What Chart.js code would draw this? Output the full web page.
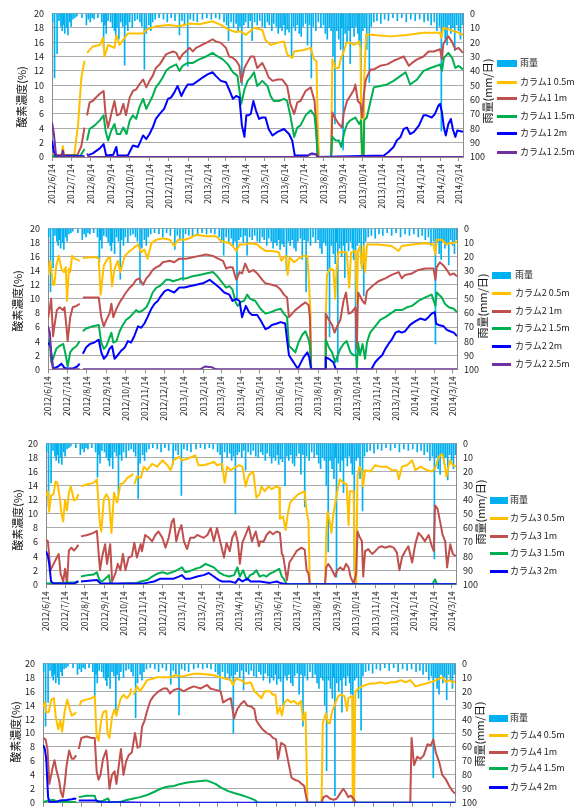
<!DOCTYPE html>
<html>
<head>
<meta charset="utf-8">
<script src="https://cdn.jsdelivr.net/npm/chart.js@4.4.1/dist/chart.umd.min.js"></script>
<style>
body { margin: 0; background: #fff; }
#page { position: relative; width: 576px; height: 809px; overflow: hidden; font-family: "Noto Sans CJK JP", sans-serif; }
.panel { position: absolute; left: 0; width: 576px; height: 215px; }
.panel canvas { position: absolute; left: 0; top: 0; }
.item { position: absolute; height: 14px; line-height: 14px; font-size: 9px; color: #222; white-space: nowrap; }
.sw { position: absolute; left: 0; }
</style>
</head>
<body>
<div id="page"></div>
<script>
// x tick labels (one per month)
var xLabels = ['2012/6/14', '2012/7/14', '2012/8/14', '2012/9/14', '2012/10/14', '2012/11/14',
    '2012/12/14', '2013/1/14', '2013/2/14', '2013/3/14', '2013/4/14', '2013/5/14', '2013/6/14',
    '2013/7/14', '2013/8/14', '2013/9/14', '2013/10/14', '2013/11/14', '2013/12/14', '2014/1/14',
    '2014/2/14', '2014/3/14'];

var depths = ['0.5m', '1m', '1.5m', '2m', '2.5m'];
var colors = ['#FFC000', '#C0504D', '#00B050', '#0000FF', '#7030A0'];

// rain: day offset from 2012/6/14 and mm/day
var rainDays = [1, 4, 8, 11, 14, 16, 18, 20, 23, 25, 28, 30, 33, 36, 39, 47, 54, 57, 60, 63, 66, 72, 78, 81, 83, 85, 88, 92, 95, 98,
    100, 102, 105, 108, 111, 114, 116, 119, 122, 126, 130, 134, 138, 141, 145, 148, 152, 155, 158, 162, 168, 175, 181, 187, 193,
    200, 204, 208, 213, 217, 222, 228, 236, 243, 250, 257, 263, 270, 274, 277, 281, 285, 289, 292, 295, 298, 301, 304, 308, 311,
    314, 318, 322, 326, 330, 334, 338, 341, 345, 348, 352, 355, 358, 361, 364, 366, 369, 372, 376, 379, 382, 385, 388, 391, 394,
    398, 401, 404, 407, 410, 414, 418, 422, 426, 429, 432, 435, 438, 441, 444, 447, 450, 453, 455, 457, 460, 463, 466, 468, 471,
    474, 477, 480, 482, 485, 488, 491, 494, 498, 501, 505, 510, 516, 522, 528, 535, 542, 549, 556, 563, 570, 577, 584, 590, 595,
    600, 604, 608, 611, 614, 617, 620, 623, 626, 629, 632, 635, 638, 641, 644];
var rainMm = [6, 45, 28, 5, 9, 12, 8, 14, 10, 15, 6, 9, 4, 3, 2, 3, 8, 4, 6, 3, 4, 3, 6, 24, 8, 14, 5, 6, 10, 12,
    16, 10, 18, 6, 9, 36, 8, 12, 6, 10, 5, 4, 6, 9, 39, 14, 8, 12, 6, 4, 3, 4, 6, 3, 5,
    15, 5, 8, 37, 4, 5, 6, 4, 3, 4, 3, 4, 6, 8, 19, 6, 10, 7, 12, 9, 50, 8, 6, 10, 5,
    19, 6, 8, 5, 9, 10, 6, 8, 12, 7, 9, 14, 10, 12, 8, 15, 11, 13, 30, 9, 12, 8, 14, 16, 9,
    7, 22, 8, 45, 9, 12, 6, 10, 8, 14, 18, 10, 12, 30, 77, 12, 18, 25, 10, 95, 14, 20, 12, 35, 10,
    16, 9, 14, 22, 90, 12, 10, 25, 48, 9, 6, 5, 7, 4, 5, 3, 5, 3, 6, 4, 5, 4, 6, 5, 8,
    6, 12, 9, 82, 10, 18, 22, 8, 14, 10, 26, 8, 12, 18, 8];

// oxygen (%) as [day, value]; null marks a break in the record
var c1_05 = [[0, 0.3], [10, 0.2], [15, 0.3], [17, 1.5], [19, 0.2], [35, 0.3], [41, 4.6], [46, 11], [51, 13.4], [52.5, null],
    [55, 14.5], [64, 15.4], [75, 15.6], [80, 16.6], [82.5, 14], [88, 15.6], [98, 15.2], [101, 17], [106, 15.6], [114, 16.6],
    [119, 17.2], [132, 17.2], [142, 17.2], [148, 17.7], [163, 18.2], [184, 18.4], [200, 18.2], [216, 18.6], [231, 18.5],
    [252, 18.9], [265, 18.4], [278, 17.7], [288, 17.4], [296, 17.5], [304, 17], [317, 18], [330, 17.7], [335, 16.3],
    [343, 15.6], [354, 15.9], [364, 16.1], [369, 14.3], [377, 13.8], [380, 14.7], [395, 14.9], [406, 15.2], [411, 13.6],
    [415, 13.4], [417, 4.6], [419, 0], [438, 0], [440, 13.6], [445, 12.4], [450, 12.4], [453, 13.6], [458, 14.7], [462, 15.9],
    [468, 15.9], [474, 15.6], [482, 16.1], [484, 15.2], [486, 0], [489, 0], [490, 11], [493, 17.1], [505, 17], [531, 16.8],
    [557, 17], [583, 17.3], [609, 17.3], [611, 16.6], [614, 18], [625, 17.7], [638, 17.3], [645, 17]];
var c1_10 = [[0, 0.2], [40, 0.3], [46, 1.5], [51, 4.1], [52.5, null], [55, 5.8], [59, 7.6], [64, 7.8], [69, 8.3], [75, 8.8],
    [81, 9.2], [84, 6], [88, 4.1], [93, 6], [98, 7.8], [102, 5.8], [107, 6], [112, 7.4], [116, 5.8], [122, 8.3], [127, 9.2],
    [132, 9.4], [137, 10.1], [143, 10.8], [148, 9.7], [153, 10.6], [158, 11.3], [163, 12.4], [169, 12.9], [174, 13.6],
    [179, 14.3], [184, 14.5], [190, 14.7], [195, 14.5], [200, 13.6], [205, 14.3], [210, 14.7], [216, 15.2], [221, 14.7],
    [226, 15.2], [231, 15.4], [237, 15.7], [242, 15.9], [252, 16.4], [257, 16.1], [265, 15.9], [273, 15.2], [278, 14],
    [284, 13.8], [289, 13.4], [294, 12.7], [297, 10.4], [302, 12.4], [306, 13.1], [312, 14], [317, 14], [322, 12.4],
    [330, 13.1], [335, 12.2], [340, 11.1], [346, 10.6], [354, 10.8], [361, 10.8], [369, 9.9], [374, 7.4], [380, 6],
    [385, 7.6], [390, 7.8], [398, 9.2], [406, 9.7], [412, 7.8], [415, 4.1], [417, 0], [438, 0], [440, 6.2], [445, 5.3],
    [450, 4.6], [455, 4.1], [458, 6.2], [463, 7.8], [468, 8.5], [474, 9.4], [476, 10.1], [480, 7.8], [484, 7.4], [487, 5.5],
    [489, 8.3], [492, 10.6], [494, 11.1], [500, 12.2], [505, 12.2], [515, 12.7], [526, 12.9], [536, 13.4], [547, 13.8],
    [552, 14], [560, 12.7], [565, 13.1], [573, 13.6], [583, 14], [591, 14.7], [599, 14.7], [609, 15], [612, 13.6],
    [614, 15.7], [620, 16.6], [622, 16.8], [628, 16], [633, 15], [638, 15.2], [645, 14.5]];
var c1_15 = [[0, 0.1], [45, 0.2], [51, 1.1], [52.5, null], [55, 2.3], [59, 3.9], [67, 4.4], [75, 5.1], [81, 5.8], [84, 3.7],
    [88, 2.3], [93, 3.7], [98, 4.6], [102, 3.2], [107, 3.2], [112, 4.1], [117, 3.2], [122, 5.1], [127, 5.8], [132, 5.3],
    [137, 6.9], [143, 8.1], [148, 6.7], [153, 7.6], [158, 8.5], [163, 9.7], [169, 10.4], [174, 11.1], [179, 12], [184, 12.4],
    [190, 12.7], [195, 12.9], [200, 12], [205, 12.7], [213, 13.1], [221, 13.1], [231, 13.6], [242, 14], [252, 14.5],
    [260, 14], [268, 13.6], [276, 12.9], [284, 11.8], [291, 11.3], [297, 7.4], [302, 9.4], [307, 10.6], [312, 11.1],
    [317, 11.8], [322, 9.9], [330, 10.6], [338, 9.9], [343, 8.5], [348, 7.8], [356, 7.8], [364, 8.1], [369, 7.8], [374, 5.8],
    [380, 2.8], [385, 4.1], [390, 4.4], [398, 5.8], [406, 6.5], [412, 5.8], [415, 2.8], [417, 0], [438, 0], [440, 2.8],
    [445, 2.3], [450, 2.3], [454, 1.4], [458, 3.2], [463, 4.6], [468, 5.1], [476, 5.5], [482, 4.6], [485, 5.1], [487, 0],
    [489, 0], [490, 5.1], [494, 5.5], [500, 7.8], [505, 9.7], [515, 9.9], [526, 10.1], [536, 10.6], [547, 11.3], [555, 11.8],
    [562, 10.1], [573, 10.8], [583, 12], [594, 12.4], [604, 12.7], [609, 12.9], [612, 12], [615, 13.8], [622, 14.5],
    [628, 13.8], [633, 12.4], [638, 12.7], [645, 12.2]];
var c1_20 = [[0, 2.3], [3, 0.7], [7, 0.1], [51, 0.1], [52.5, null], [55, 0.2], [64, 0.5], [75, 1.2], [81, 1.8], [85, 0.2],
    [96, 0.3], [101, 1.4], [103, 0.2], [119, 0.2], [127, 1.6], [135, 1.4], [143, 3], [148, 2.5], [153, 3.2], [158, 4.1],
    [163, 5.3], [169, 6], [176, 6.7], [182, 8.1], [187, 8.3], [192, 9], [197, 9.9], [203, 8.5], [208, 9.4], [213, 10.1],
    [221, 10.1], [229, 10.6], [237, 11.1], [244, 11.5], [252, 11.8], [257, 11.3], [265, 10.6], [273, 10.4], [278, 9.4],
    [284, 8.1], [289, 8.5], [294, 8.3], [298, 4.4], [302, 2.8], [305, 5.8], [308, 5.8], [312, 6], [316, 7.8], [320, 6.5],
    [325, 5.3], [330, 5.5], [335, 5.5], [340, 3.9], [346, 3], [354, 3.5], [364, 3.9], [372, 3.2], [377, 2.3], [381, 0.2],
    [401, 0.2], [408, 0.5], [414, 0.4], [417, 0], [521, 0.2], [528, 0.7], [536, 1.4], [541, 2.3], [547, 2.8], [552, 3.9],
    [557, 4.1], [562, 3.2], [568, 3.5], [576, 4.4], [583, 5.8], [588, 5.8], [596, 5.5], [601, 6], [606, 7.1], [609, 7.4],
    [612, 6.2], [615, 4.1], [618, 3], [622, 4.6], [626, 5.3], [629, 3.9], [633, 2.8], [636, 3.7], [645, 3.5]];
var c1_25 = [[0, 4.8], [3, 3.2], [6, 0.5], [9, 0], [15, 0], [17, 0.9], [19, 0], [51, 0], [52.5, null], [55, 0.5], [58, 0],
    [400, 0], [405, 0.4], [414, 0.4], [418, 0], [645, 0]];

var c2_05 = [[0, 13.4], [3, 15.4], [5, 14.3], [8, 12], [10, 12], [13, 14.7], [17, 16.1], [21, 14.3], [25, 13.8], [28, 14.5],
    [30, 9.7], [33, 14.3], [35, 13.8], [38, 16.1], [42, 15.7], [50, 15.4], [52.5, null], [55, 15.8], [66, 15.9], [76, 15.9],
    [80, 15.7], [83, 10.6], [88, 14.7], [94, 15.7], [98, 15.9], [101, 11.8], [105, 14.3], [110, 15.4], [114, 13.8],
    [121, 16.1], [129, 16.8], [136, 17.3], [142, 17.7], [147, 16.6], [152, 17], [157, 15.7], [163, 17.9], [171, 18.4],
    [181, 18.6], [192, 18.4], [199, 17.5], [205, 18.4], [215, 18.4], [223, 18.6], [234, 19.1], [249, 18.9], [265, 18.9],
    [273, 18.2], [286, 17.9], [291, 17.5], [297, 16.8], [302, 17.7], [309, 17.7], [319, 17.9], [330, 17.7], [335, 17.3],
    [343, 16.8], [353, 16.8], [364, 16.6], [368, 15.4], [372, 15.9], [375, 16.1], [378, 13.4], [381, 15.9], [388, 15.2],
    [395, 15.7], [403, 16.1], [409, 16.1], [411, 13.2], [414, 7.9], [415, 0], [437, 0], [438, 7.4], [440, 13.4], [445, 14.3],
    [450, 14.1], [453, 10], [455, 14.1], [458, 16.6], [466, 16.6], [471, 16.6], [475, 11.6], [478, 16.6], [485, 16.8],
    [487, 9.3], [489, 16.8], [492, 17.5], [495, 14.3], [498, 17.5], [500, 13.8], [503, 17.7], [521, 17.7], [542, 17.5],
    [553, 16.8], [558, 17.5], [574, 17.7], [595, 17.9], [608, 17.7], [611, 16.3], [613, 18.4], [621, 18.4], [629, 17.7],
    [632, 17.9], [640, 17.9], [645, 18.2]];
var c2_10 = [[0, 7.2], [3, 8.8], [5, 10], [8, 4.7], [10, 6.1], [14, 8.4], [18, 8.8], [24, 8.4], [26, 8.8], [29, 6.1], [31, 4],
    [35, 7.4], [39, 8.8], [45, 9], [50, 9.3], [52.5, null], [55, 10.2], [60, 10.2], [71, 10.2], [80, 10.2], [84, 7.4], [88, 6.1],
    [92, 7], [97, 7.9], [100, 9.3], [103, 7.4], [108, 8.6], [113, 9.5], [118, 10.2], [123, 10.9], [129, 11.6], [134, 12],
    [139, 12.7], [144, 12.9], [150, 12], [155, 12.9], [160, 13.4], [165, 14.1], [171, 14.5], [176, 14.7], [181, 15.2],
    [192, 15.4], [199, 15.2], [207, 15.7], [218, 15.7], [228, 15.9], [239, 16.1], [249, 16.3], [260, 16.1], [268, 15.7],
    [276, 15.4], [281, 14.3], [286, 14.5], [291, 14.5], [297, 12.7], [302, 13.8], [306, 13.6], [311, 15], [317, 13.8],
    [324, 14.1], [330, 13.6], [338, 12.7], [343, 12.2], [353, 12], [361, 11.8], [367, 11.3], [372, 10.6], [377, 10.2],
    [380, 7.4], [385, 7.9], [390, 8.4], [398, 9], [406, 9.5], [411, 9.1], [413, 7.4], [415, 0], [437, 0], [438, 7.9], [443, 7],
    [448, 6.3], [452, 5.2], [456, 6.1], [461, 7], [466, 9.7], [470, 10.9], [474, 7.9], [479, 8.1], [485, 8.8], [487, 2.9],
    [489, 10.9], [492, 10.4], [496, 9.7], [500, 9.3], [503, 11.1], [511, 11.8], [521, 12.5], [532, 12.9], [542, 13.4],
    [553, 13.8], [558, 12.9], [563, 13.4], [574, 13.6], [584, 14.1], [595, 14.3], [608, 14.3], [611, 12.7], [613, 14.5],
    [618, 15.2], [624, 14.7], [629, 14.1], [634, 13.4], [640, 13.6], [645, 13.2]];
var c2_15 = [[0, 3.8], [3, 4.2], [5, 1], [8, 1.5], [13, 2.9], [18, 3.3], [24, 3.6], [28, 2], [31, 0.4], [35, 2.4], [39, 2.9],
    [45, 3.3], [50, 4], [52.5, null], [55, 5.4], [60, 5.8], [71, 6.1], [80, 6.3], [84, 3.8], [88, 2.9], [92, 3.3], [97, 4.5],
    [100, 5.2], [103, 3.8], [108, 4], [113, 5.4], [118, 6.3], [123, 7], [129, 7.4], [134, 7.9], [139, 8.4], [144, 8.1],
    [150, 8.4], [155, 8.8], [160, 9.7], [165, 10.9], [171, 11.6], [176, 11.8], [181, 12.2], [186, 12.7], [192, 12.7],
    [197, 12.5], [205, 12.7], [210, 12.9], [218, 12.9], [228, 13.2], [239, 13.4], [249, 13.6], [260, 13.8], [265, 13.4],
    [273, 12.5], [281, 11.6], [286, 11.8], [291, 11.3], [296, 9.5], [299, 9], [305, 9.6], [309, 9.7], [314, 10.6], [319, 10],
    [327, 9.7], [335, 8.6], [343, 7.9], [351, 8.1], [359, 8.4], [367, 8.6], [372, 7.9], [377, 7.4], [380, 3.3], [385, 2.9],
    [390, 2.4], [395, 3.8], [401, 4.9], [406, 5.4], [411, 4.2], [413, 3.3], [415, 0], [437, 0], [438, 4.2], [443, 3.1],
    [448, 2.4], [453, 1], [457, 2], [461, 2.9], [466, 3.6], [471, 4], [477, 2.4], [482, 2], [486, 2], [487, 0], [489, 3.8],
    [492, 2], [496, 3.6], [500, 1.5], [503, 3.8], [508, 5.2], [516, 6.1], [524, 7], [532, 7.4], [540, 7.9], [548, 8.4],
    [558, 8.4], [566, 8.8], [574, 9], [584, 9.7], [595, 10.2], [605, 10.6], [611, 9], [613, 10.9], [621, 10.2], [626, 9.3],
    [632, 8.8], [640, 8.6], [645, 8.1]];
var c2_20 = [[0, 3.8], [4, 3.3], [5, 2.4], [8, 0.1], [16, 0.4], [21, 0.8], [26, 0.2], [31, 0.1], [39, 0.1], [46, 0.4], [50, 0.8],
    [52.5, null], [55, 2.2], [60, 3.1], [66, 3.6], [73, 3.8], [80, 4.2], [84, 2.4], [88, 1.5], [93, 2], [97, 2.9], [101, 3.3],
    [105, 1.5], [110, 2], [115, 2.6], [121, 3.1], [126, 4], [131, 3.8], [136, 4.7], [142, 6.1], [147, 5.9], [152, 6.5],
    [157, 7.4], [163, 8.6], [168, 9.3], [173, 9.7], [178, 10.4], [184, 11.1], [189, 11.3], [194, 11.1], [199, 10.9],
    [207, 11.6], [215, 11.6], [223, 11.8], [234, 12], [244, 12.2], [255, 12.7], [262, 12.2], [270, 11.6], [278, 10.9],
    [286, 10.6], [291, 9.7], [297, 10], [302, 9.7], [306, 7.4], [312, 9], [317, 8.1], [322, 7.7], [330, 7.7], [335, 7],
    [343, 5.7], [348, 5.9], [353, 6.3], [361, 6.5], [367, 6.7], [374, 6.5], [377, 4.2], [380, 2], [385, 1.3], [390, 0.6],
    [394, 0.1], [398, 0.8], [403, 1.7], [409, 2.4], [412, 1.7], [415, 0], [437, 0], [438, 1.7], [443, 1.5], [450, 1], [454, 0],
    [510, 0], [516, 1], [521, 1.5], [527, 2], [532, 2.9], [537, 3.6], [542, 4.2], [548, 5.2], [553, 5.4], [558, 5.2],
    [563, 5.4], [571, 6.3], [579, 6.8], [587, 7.2], [595, 7], [600, 7.4], [605, 7.9], [610, 8.1], [612, 6.5], [616, 6.3],
    [624, 6.1], [629, 5.6], [634, 5.4], [640, 5.2], [645, 4.7]];
var c2_25 = [[0, 6.1], [3, 5.2], [5, 2], [8, 0], [50, 0], [52.5, null], [55, 0], [240, 0], [248, 0.4], [258, 0.3], [265, 0],
    [645, 0]];

var c3_05 = [[0, 12.6], [3, 13.2], [5, 10.3], [8, 12.6], [12, 12.8], [15, 14.6], [18, 14.4], [22, 12.1], [24, 10.3], [27, 8.9],
    [30, 11.9], [33, 10.5], [36, 13], [39, 13.9], [44, 11.9], [48, 12.1], [51, 12.8], [52.5, null], [55, 13.9], [65, 14.2],
    [75, 14.4], [80, 14.9], [85, 8.4], [87, 7.5], [91, 12.1], [95, 12.8], [99, 12.1], [103, 7.3], [107, 13], [112, 11.6],
    [117, 14.2], [122, 14.4], [128, 15.1], [135, 15.5], [137, 15.7], [138, null], [139, 14.2], [143, 15.3], [149, 15.1],
    [154, 16.7], [159, 16.2], [167, 17.1], [175, 16.7], [183, 17.6], [191, 16.9], [196, 16.2], [201, 17.6], [209, 18.1],
    [214, 17.6], [222, 17.8], [230, 18.1], [235, 18.3], [240, 16.9], [248, 16.9], [256, 17.1], [264, 17.4], [269, 16.9],
    [277, 17.1], [281, 14.4], [285, 16.7], [290, 16.2], [296, 16.5], [303, 16.9], [309, 16.7], [314, 13.9], [319, 15.5],
    [326, 16], [331, 12.3], [336, 12.8], [339, 13.9], [344, 13.2], [350, 13.9], [355, 13.5], [363, 13.9], [367, 13.7],
    [368, 9.3], [373, 9.6], [377, 7.7], [380, 9.8], [384, 11.6], [389, 12.1], [397, 12.8], [402, 13], [407, 13.2],
    [410, 10.3], [413, 8.9], [415, 0], [439, 0], [441, 7.5], [443, 10.3], [446, 9.1], [449, 7.3], [452, 9.8], [457, 12.6],
    [462, 14.9], [468, 14.4], [473, 14.2], [476, 8.4], [478, 13.2], [484, 13.2], [486, 0], [488, 0], [490, 15.3],
    [493, 16.7], [497, 16], [499, 13.9], [502, 16.2], [510, 16], [518, 16.9], [526, 16.7], [536, 16.7], [544, 16.2],
    [552, 16.2], [555, 14.9], [560, 16.7], [568, 16.9], [576, 17.6], [581, 16.2], [589, 16.7], [599, 16.2], [607, 16],
    [612, 16.5], [618, 18.1], [623, 18.5], [626, 17.6], [630, 15.3], [633, 16.7], [636, 17.6], [640, 16.9], [645, 16.7]];
var c3_10 = [[0, 6.3], [3, 6.1], [7, 2], [12, 2.9], [17, 3.8], [20, 4.3], [23, 1.5], [27, 0.4], [30, 2.2], [33, 0.1], [36, 4.8],
    [40, 5.2], [44, 4.8], [48, 5.2], [51, 5.6], [52.5, null], [55, 6.8], [65, 7], [75, 7.3], [80, 7.6], [85, 2], [88, 3.8],
    [93, 5.7], [96, 2.9], [101, 5.7], [104, 0.4], [109, 1.5], [113, 2.9], [117, 2], [121, 4.3], [125, 2], [130, 3.8], [135, 4],
    [139, 5.9], [143, 3.8], [149, 5.7], [151, 4.7], [156, 7], [162, 6.6], [167, 6.1], [172, 7], [177, 7.5], [183, 6.6],
    [188, 5.2], [193, 6.6], [198, 8.9], [201, 9.3], [205, 6.1], [209, 7.5], [213, 8.4], [217, 6.1], [222, 5], [227, 6.6],
    [233, 6.6], [238, 7], [243, 6.8], [248, 6.6], [254, 7], [259, 8], [264, 6.1], [269, 8], [275, 5.7], [280, 3.8],
    [284, 5.9], [289, 4.7], [293, 6.6], [298, 7.5], [302, 5.9], [305, 2.9], [309, 5.9], [314, 7], [319, 8.2], [324, 6.1],
    [330, 7.5], [335, 5.4], [337, 6.1], [342, 6], [347, 7], [352, 7.5], [357, 7.1], [363, 7.5], [368, 7.3], [371, 4.3],
    [373, 4.1], [379, 0.6], [383, 3.1], [388, 3.8], [394, 4.7], [402, 5.2], [407, 4.9], [410, 2], [413, 1.5], [415, 0],
    [439, 0], [441, 2.4], [444, 2.9], [449, 2.2], [455, 1.1], [458, 2], [463, 2.4], [468, 2], [472, 2.9], [476, 2.4],
    [479, 1.1], [484, 0.1], [488, 1.5], [490, 7.5], [493, 6.8], [497, 6.1], [499, 1.1], [502, 4.7], [507, 5], [513, 4.3],
    [518, 4.7], [523, 5.2], [528, 5.4], [533, 5.2], [541, 5.4], [547, 5.2], [552, 4.5], [556, 2], [560, 3.8], [565, 4.7],
    [570, 5.4], [576, 3.1], [581, 5.7], [586, 7.3], [591, 6.8], [596, 6.1], [602, 7], [607, 5.4], [610, 4.7], [612, 11.2],
    [616, 10.7], [620, 8.9], [624, 7], [628, 6.1], [631, 2.4], [633, 3.8], [636, 5.7], [640, 4.3], [645, 4]];
var c3_15 = [[0, 0.1], [51, 0.3], [52.5, null], [55, 1.1], [65, 1.3], [75, 1.4], [80, 1.7], [84, 0.6], [88, 0.4], [93, 0.8],
    [99, 1.3], [101, 0.2], [107, 0], [122, 0.1], [143, 0.2], [149, 0.4], [159, 0.6], [167, 1.1], [175, 1.5], [183, 1.7],
    [191, 1.5], [198, 1.7], [206, 2], [214, 2.4], [219, 1.7], [227, 1.9], [235, 2.2], [243, 2.4], [251, 2.9], [256, 2.7],
    [264, 2.4], [272, 1.7], [280, 1.3], [288, 1.1], [296, 1.3], [301, 2.4], [305, 1.1], [310, 2], [316, 0.6], [321, 1.3],
    [326, 1.5], [331, 2], [336, 1.1], [342, 1.3], [347, 1.1], [352, 1.5], [357, 1.7], [363, 2], [367, 2.2], [371, 1.1],
    [374, 0.8], [379, 0], [608, 0], [612, 0.7], [615, 0], [645, 0]];
var c3_20 = [[0, 4.7], [3, 4], [5, 2.9], [8, 0.4], [12, 0.1], [45, 0.1], [49, 0.4], [51, 0.3], [52.5, null], [55, 0.4], [80, 0.6],
    [86, 0.1], [154, 0.1], [159, 0.2], [170, 0.4], [180, 0.8], [191, 0.8], [201, 0.8], [209, 1.1], [214, 1.3], [219, 0.8],
    [227, 0.8], [238, 1.1], [248, 1.3], [256, 1.6], [264, 1.1], [272, 0.6], [277, 0.4], [290, 0.4], [298, 0.2], [303, 0.8],
    [309, 0.4], [317, 0.8], [322, 0.4], [337, 0.4], [352, 0.2], [363, 0.4], [368, 0.2], [379, 0], [645, 0]];

var c4_05 = [[0, 13.7], [3, 14.4], [5, 13], [9, 13], [13, 14.8], [17, 15], [20, 12.3], [24, 10.5], [27, 11.8], [30, 10.2],
    [34, 13.2], [38, 14.8], [42, 13.4], [45, 12.5], [50, 12.8], [52, 13], [52.5, null], [57, 13.9], [60, 14.6], [68, 14.8],
    [76, 15], [81, 15.3], [84, 9.5], [87, 8.9], [91, 11.8], [94, 13], [99, 13.2], [101, 10], [104, 9.3], [108, 12.3],
    [112, 13.4], [115, 12.5], [121, 14.8], [126, 15.5], [131, 15], [136, 15.5], [138, 16.4], [139, null], [142, 15.5],
    [147, 16.7], [152, 16], [157, 16.7], [163, 17.6], [171, 17.8], [178, 18], [189, 18], [199, 18], [207, 18.3], [218, 18.1],
    [226, 18.3], [236, 18.5], [247, 18.5], [257, 18.4], [268, 18.3], [278, 18], [286, 17.8], [294, 17.6], [297, 16.9],
    [302, 17.8], [310, 17.6], [318, 17.1], [325, 17.3], [331, 16], [337, 15.5], [342, 15], [347, 16], [355, 16], [360, 15.5],
    [364, 15.5], [367, 12.8], [371, 13.7], [374, 12.5], [378, 14.4], [383, 14.8], [388, 14.4], [393, 14.6], [399, 14.1],
    [404, 14.6], [407, 11.8], [411, 13], [414, 0], [436, 0], [438, 11.4], [441, 12.3], [443, 12.8], [446, 11.4], [449, 11.4],
    [453, 13.2], [457, 14.1], [462, 15.3], [467, 15.5], [472, 15.3], [476, 13.2], [478, 15], [484, 15.3], [485, 0], [487, 0],
    [489, 16], [494, 16.4], [499, 16.7], [505, 16.9], [512, 17.1], [520, 17.1], [528, 17.3], [536, 17.1], [544, 17.3],
    [552, 17.3], [560, 17.6], [568, 17.3], [575, 17.6], [583, 16.7], [591, 16.9], [599, 17.1], [607, 17.3], [615, 17.6],
    [620, 17.8], [625, 18], [631, 17.3], [636, 17.6], [641, 17.3], [645, 17.4]];
var c4_10 = [[0, 9.3], [4, 9.1], [7, 7.7], [10, 2.7], [15, 5], [18, 6.1], [21, 4.7], [25, 3.3], [28, 1.5], [31, 0.8], [34, 2.7],
    [37, 5.4], [41, 7.5], [45, 6.3], [48, 6.3], [52, 6.8], [52.5, null], [56, 7.7], [60, 9.3], [68, 9.5], [76, 9.3], [81, 9.3],
    [84, 4.5], [87, 3.3], [90, 4], [94, 6.3], [99, 7.5], [101, 5.9], [104, 2], [108, 4], [112, 4.5], [115, 2.7], [120, 6.3],
    [122, 7.7], [126, 4], [130, 5.9], [134, 6.8], [139, 7.2], [144, 10], [148, 7.9], [152, 8.1], [155, 10.9], [159, 11.8],
    [163, 13.2], [168, 14.6], [173, 15.3], [181, 16], [189, 16.4], [194, 16.4], [199, 15.7], [205, 16.2], [213, 16.4],
    [220, 16], [228, 16.4], [236, 16.7], [247, 16.4], [257, 16.9], [262, 16.4], [270, 16.2], [278, 16], [282, 14.4],
    [289, 14.8], [294, 15], [299, 12.1], [304, 13.4], [310, 14.2], [315, 14.6], [320, 13.9], [326, 13.8], [331, 13.4],
    [334, 11.8], [339, 11.1], [344, 10.5], [350, 10], [355, 9.8], [360, 9.3], [365, 9.1], [368, 6.3], [371, 7.7], [373, 8.6],
    [379, 8.2], [384, 5.9], [389, 3.6], [394, 3.3], [400, 3.1], [405, 2.7], [409, 2.4], [411, 1.3], [414, 0], [436, 0],
    [439, 0.8], [444, 1], [449, 0.6], [455, 0.4], [460, 0.6], [465, 1.3], [470, 2], [474, 1.5], [478, 0.8], [482, 1],
    [486, 0.6], [490, 0], [575, 0], [577, 9.3], [581, 5.4], [586, 6.6], [591, 6.3], [596, 6.8], [602, 8.4], [607, 8.2],
    [611, 9.1], [615, 7.2], [620, 5.9], [625, 4], [631, 3.3], [636, 2.4], [641, 1.7], [645, 1.3]];
var c4_15 = [[0, 0.1], [8, 0.3], [16, 0.4], [24, 0.1], [52, 0.1], [52.5, null], [56, 0.8], [68, 1], [81, 1], [84, 0.1], [94, 0.3],
    [102, 0.6], [105, 0], [121, 0.1], [131, 0.4], [142, 0.6], [152, 0.8], [163, 1.1], [173, 1.5], [184, 2], [194, 2.3],
    [205, 2.4], [215, 2.7], [226, 2.9], [236, 3], [247, 3.1], [255, 3.2], [262, 3], [270, 2.7], [278, 2.2], [289, 1.7],
    [299, 1.4], [310, 1.1], [320, 0.8], [331, 0.4], [337, 0], [645, 0]];
var c4_20 = [[0, 8.3], [3, 7.7], [5, 6.3], [8, 0.8], [10, 0.1], [21, 0.1], [26, 0.3], [37, 0.4], [45, 0.5], [50, 0.6], [52, 0.5],
    [52.5, null], [56, 0.3], [84, 0.3], [89, 0.1], [168, 0], [645, 0]];

// panel layout (pixels, relative to each panel)
var panels = [
    { top: 0, left: 52, right: 463, plotTop: 12, plotBottom: 157, lx: 22, ly: 97, rx: 488, ry: 91,
        swX: 497, swW: 20, txX: 520, legY: [63, 82, 98, 116, 133, 152], col: 1, series: [c1_05, c1_10, c1_15, c1_20, c1_25] },
    { top: 215, left: 48, right: 457, plotTop: 8.5, plotBottom: 154.3, lx: 18, ly: 86, rx: 483, ry: 91,
        swX: 492, swW: 19, txX: 515, legY: [60, 78, 96, 113, 131, 149], col: 2, series: [c2_05, c2_10, c2_15, c2_20, c2_25] },
    { top: 430, left: 46, right: 456, plotTop: 9.3, plotBottom: 154.3, lx: 17.5, ly: 90, rx: 481, ry: 82,
        swX: 490, swW: 18, txX: 510, legY: [70, 88, 106, 123, 141], col: 3, series: [c3_05, c3_10, c3_15, c3_20] },
    { top: 650, left: 43, right: 455, plotTop: 7.3, plotBottom: 152.7, lx: 16, ly: 82, rx: 480, ry: 84,
        swX: 489, swW: 19, txX: 510, legY: [68, 85, 102, 118, 137], col: 4, series: [c4_05, c4_10, c4_15, c4_20] }
];

var FONT = '"Noto Sans CJK JP", sans-serif';
var day0 = Date.UTC(2012, 5, 14);
var xDays = xLabels.map(function (s) {
    var p = s.split('/');
    return Math.round((Date.UTC(+p[0], +p[1] - 1, +p[2]) - day0) / 86400000);
});

var sideTitles = {
    id: 'sideTitles',
    afterDraw: function (chart, args, opts) {
        var ctx = chart.ctx;
        ctx.save();
        ctx.font = '11px ' + FONT;
        ctx.fillStyle = '#111';
        ctx.textAlign = 'center';
        ctx.textBaseline = 'middle';
        opts.items.forEach(function (t) {
            ctx.save();
            ctx.translate(t.x, t.y);
            ctx.rotate(-Math.PI / 2);
            ctx.fillText(t.text, 0, 0);
            ctx.restore();
        });
        ctx.restore();
    }
};

var page = document.getElementById('page');

panels.forEach(function (p) {
    var div = document.createElement('div');
    div.className = 'panel';
    div.style.top = p.top + 'px';
    var cv = document.createElement('canvas');
    cv.width = 576;
    cv.height = 215;
    div.appendChild(cv);
    page.appendChild(div);

    var names = p.series.map(function (s, i) { return 'カラム' + p.col + ' ' + depths[i]; });

    var datasets = [{
        type: 'bar',
        label: '雨量',
        yAxisID: 'y1',
        data: rainDays.map(function (d, i) { return { x: d, y: rainMm[i] }; }),
        backgroundColor: '#00B0F0',
        barThickness: 1,
        order: 10
    }];
    p.series.forEach(function (s, i) {
        datasets.push({
            type: 'line',
            label: names[i],
            yAxisID: 'y',
            data: s.map(function (pt) { return { x: pt[0], y: pt[1] }; }),
            borderColor: colors[i],
            backgroundColor: colors[i],
            borderWidth: 2,
            pointRadius: 0,
            tension: 0,
            spanGaps: false,
            borderJoinStyle: 'round',
            order: 5 - i
        });
    });

    new Chart(cv, {
        type: 'line',
        data: { datasets: datasets },
        options: {
            responsive: false,
            animation: false,
            events: [],
            layout: { padding: { left: 0, top: p.plotTop, right: 576 - p.right - 30, bottom: 0 } },
            plugins: {
                legend: { display: false },
                tooltip: { enabled: false },
                sideTitles: {
                    items: [
                        { text: '酸素濃度(%)', x: p.lx, y: p.ly },
                        { text: '雨量(mm/日)', x: p.rx, y: p.ry }
                    ]
                }
            },
            scales: {
                x: {
                    type: 'linear',
                    min: 0,
                    max: 645,
                    offset: false,
                    afterFit: function (s) { s.height = 215 - p.plotBottom; },
                    afterBuildTicks: function (s) { s.ticks = xDays.map(function (v) { return { value: v }; }); },
                    grid: { display: true, drawOnChartArea: false, drawTicks: true, tickLength: 4, color: '#8C8C8C', offset: false },
                    border: { display: true, color: '#8C8C8C' },
                    ticks: {
                        autoSkip: false,
                        maxRotation: 90,
                        minRotation: 90,
                        padding: 3,
                        color: '#222',
                        font: { family: FONT, size: 8.5 },
                        callback: function (v, i) { return xLabels[i]; }
                    }
                },
                y: {
                    position: 'left',
                    min: 0,
                    max: 20,
                    afterFit: function (s) { s.width = p.left; },
                    grid: { color: '#ABABAB', drawTicks: false },
                    border: { display: true, color: '#8C8C8C' },
                    ticks: { stepSize: 2, padding: 8, color: '#222', font: { family: FONT, size: 9 } }
                },
                y1: {
                    position: 'right',
                    min: 0,
                    max: 100,
                    reverse: true,
                    afterFit: function (s) { s.width = 30; },
                    grid: { display: false, drawTicks: false },
                    border: { display: true, color: '#8C8C8C' },
                    ticks: { stepSize: 10, padding: 7, color: '#222', font: { family: FONT, size: 9 } }
                }
            }
        },
        plugins: [sideTitles]
    });

    // legend at the right of each panel
    var legendNames = ['雨量'].concat(names);
    legendNames.forEach(function (n, i) {
        var it = document.createElement('div');
        it.className = 'item';
        it.style.left = p.swX + 'px';
        it.style.top = (p.legY[i] - 7) + 'px';
        var sw = document.createElement('div');
        sw.className = 'sw';
        sw.style.width = p.swW + 'px';
        if (i === 0) {
            sw.style.height = '7px';
            sw.style.top = '3.5px';
            sw.style.background = '#00B0F0';
        } else {
            sw.style.height = '3px';
            sw.style.top = '5.5px';
            sw.style.background = colors[i - 1];
        }
        it.appendChild(sw);
        var tx = document.createElement('span');
        tx.style.position = 'absolute';
        tx.style.left = (p.txX - p.swX) + 'px';
        tx.textContent = n;
        it.appendChild(tx);
        div.appendChild(it);
    });
});
</script>
</body>
</html>
